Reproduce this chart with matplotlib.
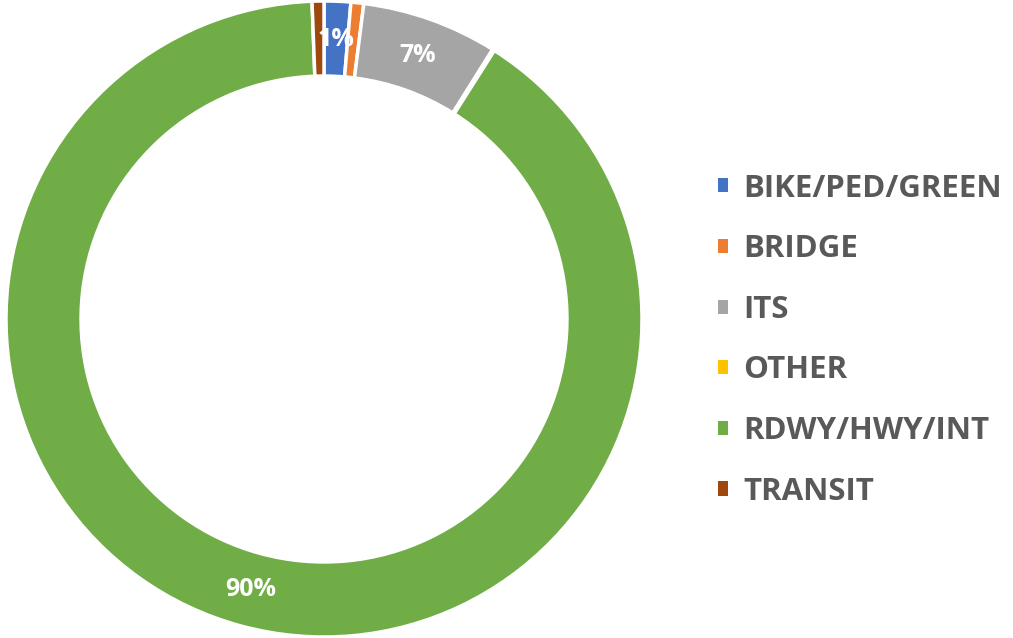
import matplotlib.pyplot as plt
from matplotlib.patches import Patch

plt.rcParams['font.family'] = ['Open Sans', 'DejaVu Sans']

# data
categories = ['BIKE/PED/GREEN', 'BRIDGE', 'ITS', 'OTHER', 'RDWY/HWY/INT', 'TRANSIT']
shares = [1.35, 0.65, 6.9, 0.1, 90.4, 0.6]
colors = ['#4472C4', '#ED7D31', '#A5A5A5', '#FFC000', '#70AD47', '#9E480E']

W, H = 1013, 638
fig = plt.figure(figsize=(W / 100, H / 100), dpi=100)

cx, cy, R = 324, 319, 318
ax = fig.add_axes([(cx - R) / W, (H - cy - R) / H, 2 * R / W, 2 * R / H])


def pct(p):
    return '%d%%' % round(p) if p >= 1 else ''


wedges, texts, autotexts = ax.pie(
    shares, colors=colors, startangle=90, counterclock=False, radius=1,
    autopct=pct, pctdistance=0.88,
    wedgeprops=dict(width=0.236, edgecolor='white', linewidth=2.5),
    textprops=dict(color='white', fontsize=18, fontweight='bold'))
ax.set_xlim(-1, 1)
ax.set_ylim(-1, 1)
ax.set_aspect('equal')
ax.axis('off')

handles = [Patch(facecolor=c, edgecolor='none') for c in colors]
fig.legend(handles, categories, loc='upper left',
           bbox_to_anchor=(702 / W, 1 - 158 / H), frameon=False,
           prop=dict(size=22.5, weight='bold'), labelcolor='#595959',
           handlelength=0.32, handleheight=0.32, handletextpad=0.5,
           labelspacing=0.98, borderpad=0)

fig.savefig('out.png', dpi=100)
